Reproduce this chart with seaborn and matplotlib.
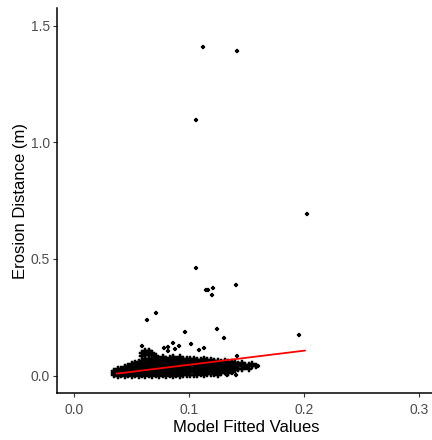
import matplotlib
matplotlib.use("Agg")
import matplotlib.pyplot as plt
import seaborn as sns
import pandas as pd

sns.set_theme(style="ticks")
plt.rcParams['font.family'] = ['Liberation Sans', 'DejaVu Sans']

# Isolated observations (model fitted value, erosion distance in m)
outlier_x = [0.1124, 0.1420, 0.1058, 0.2023, 0.1058, 0.1145, 0.1168, 0.1211,
             0.1203, 0.1411, 0.0713, 0.0635, 0.0968, 0.1243, 0.1307, 0.1954,
             0.0858, 0.0916, 0.1017, 0.0594, 0.0820, 0.0820, 0.1090, 0.1130,
             0.1420, 0.1600, 0.1330, 0.1370, 0.1410, 0.0880, 0.0780]
outlier_y = [1.409, 1.392, 1.096, 0.693, 0.459, 0.367, 0.367, 0.376,
             0.344, 0.389, 0.270, 0.237, 0.187, 0.198, 0.162, 0.174,
             0.138, 0.127, 0.134, 0.127, 0.123, 0.106, 0.108, 0.119,
             0.083, 0.041, 0.004, 0.010, 0.002, 0.112, 0.118]

# Dense cluster of observations, listed column by column
cluster_x = [0.035, 0.038, 0.041, 0.044, 0.047, 0.050, 0.053, 0.056, 0.059,
             0.062, 0.065, 0.068, 0.071, 0.074, 0.077, 0.080, 0.083, 0.086,
             0.089, 0.092, 0.095, 0.098, 0.101, 0.104, 0.107, 0.110, 0.113,
             0.116, 0.119, 0.122, 0.125, 0.128, 0.131, 0.134, 0.137, 0.140,
             0.143, 0.146, 0.149, 0.152, 0.155, 0.158]
cluster_y = [
    [0.002, 0.012, 0.020],
    [0.000, 0.010, 0.020, 0.028],
    [0.001, 0.011, 0.021, 0.030],
    [0.000, 0.010, 0.020, 0.030, 0.038],
    [0.002, 0.012, 0.022, 0.032, 0.042],
    [0.000, 0.010, 0.020, 0.030, 0.040, 0.048],
    [0.001, 0.011, 0.021, 0.031, 0.041, 0.052],
    [0.000, 0.010, 0.020, 0.030, 0.040, 0.050, 0.060],
    [0.002, 0.012, 0.022, 0.032, 0.042, 0.052, 0.062, 0.085, 0.095],
    [0.000, 0.010, 0.020, 0.030, 0.040, 0.050, 0.060, 0.070, 0.088, 0.098, 0.105],
    [0.001, 0.011, 0.021, 0.031, 0.041, 0.051, 0.061, 0.070, 0.090, 0.100, 0.106],
    [0.000, 0.010, 0.020, 0.030, 0.040, 0.050, 0.060, 0.072, 0.086, 0.098],
    [0.002, 0.012, 0.022, 0.032, 0.042, 0.052, 0.062, 0.074, 0.084],
    [0.000, 0.010, 0.020, 0.030, 0.040, 0.050, 0.060, 0.070],
    [0.001, 0.011, 0.021, 0.031, 0.041, 0.051, 0.061, 0.071, 0.080],
    [0.000, 0.010, 0.020, 0.030, 0.040, 0.050, 0.060, 0.070],
    [0.002, 0.012, 0.022, 0.032, 0.042, 0.052, 0.062, 0.074],
    [0.000, 0.010, 0.020, 0.030, 0.040, 0.050, 0.060, 0.070, 0.080],
    [0.001, 0.011, 0.021, 0.031, 0.041, 0.051, 0.061, 0.072],
    [0.000, 0.010, 0.020, 0.030, 0.040, 0.050, 0.060, 0.070, 0.078],
    [0.002, 0.012, 0.022, 0.032, 0.042, 0.052, 0.062, 0.072],
    [0.001, 0.011, 0.021, 0.031, 0.041, 0.051, 0.061, 0.070],
    [0.003, 0.013, 0.023, 0.033, 0.043, 0.053, 0.063, 0.072],
    [0.004, 0.014, 0.024, 0.034, 0.044, 0.054, 0.064, 0.070],
    [0.002, 0.012, 0.022, 0.032, 0.042, 0.052, 0.062, 0.068],
    [0.005, 0.015, 0.025, 0.035, 0.045, 0.055, 0.065],
    [0.004, 0.014, 0.024, 0.034, 0.044, 0.054, 0.064, 0.072],
    [0.006, 0.016, 0.026, 0.036, 0.046, 0.056, 0.066],
    [0.008, 0.018, 0.028, 0.038, 0.048, 0.058, 0.066],
    [0.006, 0.016, 0.026, 0.036, 0.046, 0.056, 0.064],
    [0.004, 0.012, 0.022, 0.032, 0.042, 0.052, 0.062],
    [0.010, 0.020, 0.030, 0.040, 0.050, 0.060],
    [0.015, 0.025, 0.035, 0.045, 0.055, 0.062],
    [0.012, 0.022, 0.032, 0.042, 0.052, 0.060],
    [0.020, 0.030, 0.040, 0.050, 0.058],
    [0.025, 0.035, 0.045, 0.055],
    [0.030, 0.040, 0.050],
    [0.028, 0.042, 0.055],
    [0.035, 0.046],
    [0.030, 0.044],
    [0.040, 0.048],
    [0.042],
]

# Linear fit drawn across the range of fitted values
fit_x = [0.037, 0.201]
fit_y = [0.008, 0.107]

cx_flat, cy_flat = [], []
for cx, col in zip(cluster_x, cluster_y):
    cx_flat.extend([cx] * len(col))
    cy_flat.extend(col)
cluster_df = pd.DataFrame({"fitted": cx_flat, "erosion": cy_flat})
outlier_df = pd.DataFrame({"fitted": outlier_x, "erosion": outlier_y})

fig = plt.figure(figsize=(4.32, 4.40), dpi=100)
ax = fig.add_axes([57 / 432, 47 / 440, (436 - 57) / 432, (393 - 8.3) / 440])

# overlapping points in the dense cluster
sns.scatterplot(data=cluster_df, x="fitted", y="erosion", marker="P", s=14,
                color="black", edgecolor="black", linewidth=0.35,
                ax=ax, zorder=2)
sns.scatterplot(data=outlier_df, x="fitted", y="erosion", marker="P", s=7,
                color="black", edgecolor="black", linewidth=0.15,
                ax=ax, zorder=2)
sns.lineplot(x=fit_x, y=fit_y, color="red", linewidth=1.3, ax=ax, zorder=3)

ax.set_xlim(-0.015, 0.315)
ax.set_ylim(-0.075, 1.575)
ax.set_xticks([0.0, 0.1, 0.2, 0.3])
ax.set_xticklabels(["0.0", "0.1", "0.2", "0.3"])
ax.set_yticks([0.0, 0.5, 1.0, 1.5])
ax.set_yticklabels(["0.0", "0.5", "1.0", "1.5"])

for side in ("top", "right"):
    ax.spines[side].set_visible(False)
for side in ("left", "bottom"):
    ax.spines[side].set_linewidth(1.1)
    ax.spines[side].set_color("black")

ax.tick_params(axis="both", length=3, width=0.8, color="#333333",
               labelcolor="#4D4D4D", labelsize=10)
ax.tick_params(axis="x", pad=4)
ax.tick_params(axis="y", pad=2)

ax.set_xlabel("Model Fitted Values", fontsize=12, color="black", labelpad=2)
ax.set_ylabel("Erosion Distance (m)", fontsize=12, color="black", labelpad=2)

fig.savefig("out.png", dpi=100)
